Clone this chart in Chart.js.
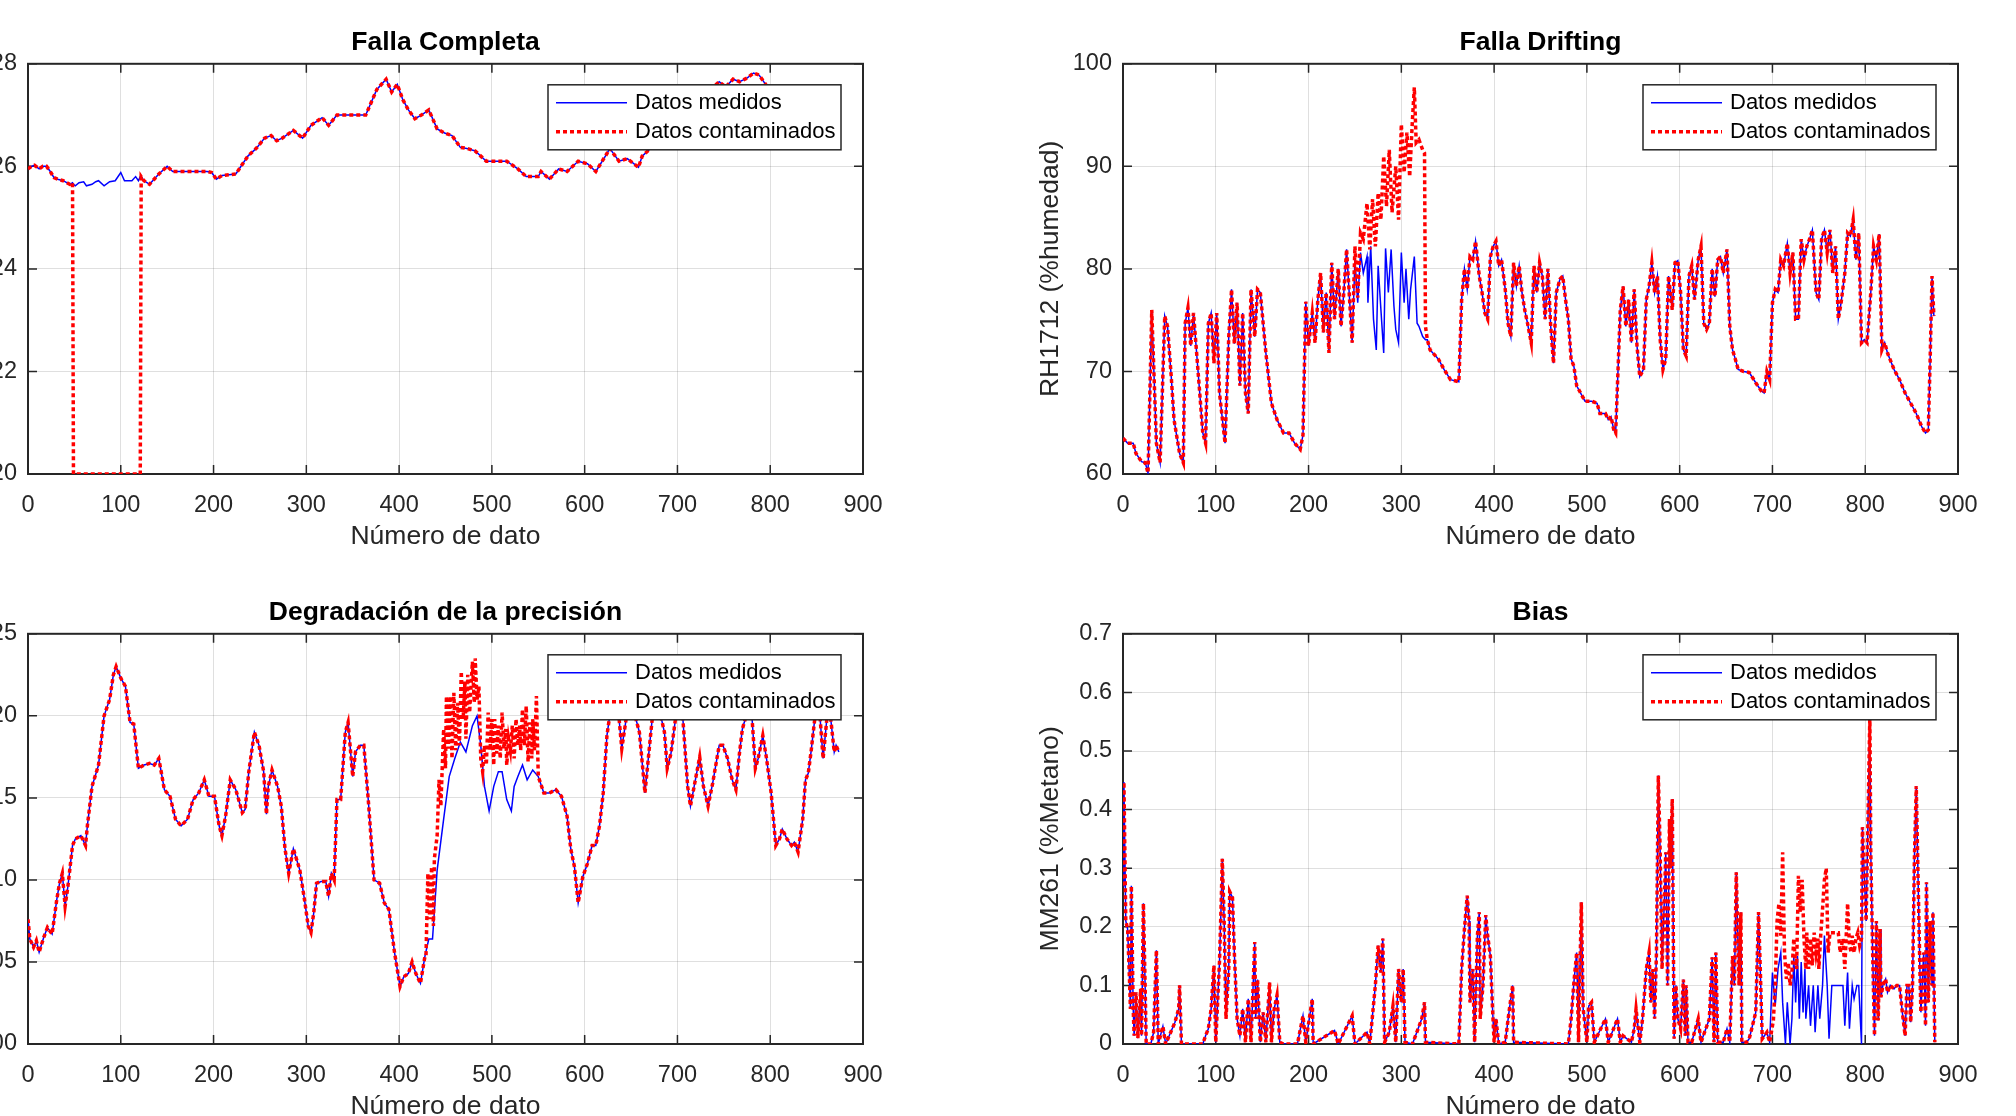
<!DOCTYPE html>
<html>
<head>
<meta charset="utf-8">
<script src="https://cdn.jsdelivr.net/npm/chart.js@4"></script>
<style>
  html, body { margin: 0; padding: 0; background: #fff; }
  body { width: 2016px; height: 1116px; overflow: hidden; position: relative; }
  canvas { position: absolute; }
</style>
</head>
<body>
<canvas id="completa" width="975" height="560" style="left:-72px;top:0px"></canvas>
<canvas id="deriva" width="975" height="560" style="left:1023px;top:0px"></canvas>
<canvas id="degradacion" width="975" height="560" style="left:-72px;top:570px"></canvas>
<canvas id="bias" width="975" height="560" style="left:1023px;top:570px"></canvas>
<script>
// Falla Completa: common parts + fault window
const completaInicio = [[0,25.95],[4,26.0],[7,26.02],[12,25.95],[16,26.0],[20,26.0],[24,25.9],[28,25.78],[32,25.75],[38,25.72],[45,25.65],[48,25.68]];
const completaMedVentana = [[49,25.65],[51,25.62],[55,25.68],[60,25.7],[63,25.62],[69,25.65],[73,25.7],[76,25.72],[82,25.62],[88,25.7],[94,25.72],[100,25.88],[104,25.72],[112,25.72],[116,25.8],[119,25.72],[121,25.8]];
const completaConVentana = [[49,20],[121,20]];
const completaFinal = [[122,25.8],[125,25.72],[131,25.65],[141,25.85],[150,26.0],[156,25.9],[175,25.9],[193,25.9],[198,25.88],[203,25.75],[209,25.82],[224,25.85],[237,26.2],[246,26.35],[255,26.55],[262,26.6],[268,26.5],[274,26.55],[286,26.7],[296,26.55],[305,26.8],[317,26.95],[324,26.8],[333,27.0],[364,27.0],[376,27.5],[386,27.7],[392,27.45],[398,27.6],[404,27.3],[410,27.1],[417,26.93],[424,27.0],[432,27.1],[441,26.73],[449,26.65],[457,26.6],[466,26.37],[473,26.35],[482,26.3],[494,26.1],[516,26.1],[528,25.95],[537,25.8],[550,25.8],[553,25.9],[562,25.75],[572,25.95],[581,25.9],[593,26.1],[603,26.05],[612,25.9],[624,26.25],[627,26.35],[637,26.1],[646,26.15],[658,25.98],[662,26.2],[671,26.35],[690,26.7],[710,27.1],[730,27.4],[745,27.65],[752,27.55],[760,27.7],[767,27.65],[775,27.72],[782,27.82],[788,27.78],[795,27.6],[805,27.4],[820,27.2],[840,27.0],[860,27.1],[875,26.9]];

// Falla Drifting (RH1712)
const derivaInicio = [[0,63.5],[5,63.0],[11,63.0],[14,62.0],[20,61.2],[24,61.1],[27,60.1],[31,76.0],[36,63.0],[40,61.1],[45,75.4],[48,74.4],[52,69.5],[55,65.3],[61,62.0],[65,61.1],[67,74.7],[70,76.2],[73,72.5],[76,75.7],[81,69.9],[86,64.0],[89,63.0],[92,74.7],[95,75.7],[98,70.8],[101,75.7],[104,67.9],[110,63.0],[114,73.4],[117,78.0],[120,72.7],[123,76.7],[126,68.6],[129,75.7],[132,67.9],[135,65.9],[138,78.0],[142,73.4],[145,78.0],[148,77.7],[154,71.8],[160,66.9],[166,65.3],[173,64.0],[179,64.0],[185,63.0],[191,62.4],[194,63.8],[197,76.8],[200,72.5],[204,75.7],[207,72.8],[210,77.0],[213,79.6],[216,73.8],[219,77.7],[222,71.8],[225,80.6],[228,75.1],[232,80.0],[235,74.4],[238,77.7],[241,81.9]];
const derivaMedVentana = [[247,72.8],[250,80.9],[253,76.7],[256,81.6],[259,79.6],[263,81.2],[264,76.7],[267,82.2],[270,75.1],[273,72.1],[275,80.3],[278,76.0],[281,71.8],[283,82.0],[286,77.7],[289,81.9],[292,76.4],[294,74.1],[297,72.8],[300,81.6],[303,76.7],[305,80.0],[308,75.1],[310,78.0],[314,81.2],[317,74.7],[319,74.4],[323,73.4],[326,73.1]];
const derivaConVentana = [[247,72.8],[250,82.2],[253,77.2],[256,83.5],[259,82.9],[263,86.4],[266,81.9],[269,86.8],[272,82.2],[275,87.4],[278,84.8],[281,91.0],[284,86.1],[287,91.6],[290,85.5],[294,90.0],[297,84.8],[300,94.1],[303,89.4],[306,93.3],[309,89.0],[312,94.6],[314,97.7],[316,92.3],[319,92.6],[323,91.6],[325,91.3],[326,74.4]];
const derivaFinal = [[328,73.1],[331,72.1],[334,71.8],[340,71.2],[346,70.2],[353,69.2],[362,69.0],[365,77.0],[368,80.0],[371,78.0],[374,81.2],[377,80.9],[380,82.7],[384,79.3],[387,77.7],[390,75.7],[393,75.1],[396,81.2],[399,82.2],[402,82.7],[405,80.3],[408,80.9],[412,78.0],[415,74.7],[418,73.4],[421,80.6],[424,78.3],[427,80.3],[430,77.7],[433,76.0],[436,74.7],[440,72.8],[443,80.3],[446,77.7],[449,80.6],[452,79.3],[455,75.1],[458,80.0],[461,74.4],[464,70.8],[467,77.7],[471,79.0],[474,79.3],[477,77.0],[480,75.1],[483,71.2],[486,70.5],[489,68.6],[495,67.6],[498,67.1],[505,67.1],[511,66.9],[514,65.9],[520,65.9],[523,65.3],[526,65.6],[529,64.3],[531,64.0],[534,71.2],[536,76.0],[539,78.3],[542,74.4],[545,77.0],[548,72.8],[551,78.0],[554,72.5],[557,69.5],[561,70.2],[564,77.0],[567,78.3],[570,80.6],[573,77.7],[576,79.3],[579,73.1],[582,70.2],[585,71.2],[588,79.3],[592,76.0],[595,80.6],[598,80.8],[601,77.7],[604,72.1],[607,71.5],[610,79.3],[613,80.3],[616,77.0],[620,80.9],[623,82.2],[626,74.7],[629,74.1],[632,74.7],[635,80.0],[638,77.3],[641,80.9],[644,81.2],[647,79.6],[651,81.9],[654,74.4],[657,72.1],[660,71.2],[663,70.2],[669,70.0],[675,69.9],[682,68.9],[688,68.1],[691,67.9],[694,70.0],[697,69.2],[700,76.7],[703,78.0],[706,77.7],[709,80.9],[712,80.3],[716,82.5],[719,79.6],[722,81.6],[725,75.1],[728,75.1],[731,82.9],[734,80.9],[737,82.2],[740,82.9],[743,83.8],[747,77.7],[750,77.0],[753,82.9],[756,83.8],[759,81.6],[762,83.8],[765,79.6],[768,82.2],[771,75.1],[774,76.7],[778,79.6],[781,83.5],[784,83.2],[787,84.8],[790,80.9],[793,83.5],[796,72.8],[799,73.1],[802,72.8],[806,77.7],[809,82.2],[812,80.9],[815,83.4],[818,72.1],[821,72.8],[824,71.8],[831,70.2],[837,69.2],[843,67.9],[849,66.9],[855,65.9],[861,64.6],[865,64.0],[868,64.3],[870,71.2],[872,79.3],[874,75.4]];

// Degradación de la precisión
const degraInicio = [[0,1007.6],[2,1006.4],[6,1005.9],[9,1006.3],[12,1005.6],[17,1006.5],[21,1007.1],[26,1006.7],[31,1008.8],[34,1009.8],[37,1010.4],[40,1008.4],[43,1009.6],[48,1012.1],[51,1012.5],[57,1012.7],[62,1012.1],[64,1013.3],[69,1015.7],[76,1017.0],[82,1020.0],[88,1021.0],[92,1022.5],[95,1023.0],[100,1022.3],[105,1021.8],[110,1019.6],[114,1019.5],[119,1016.8],[125,1017.0],[131,1017.1],[136,1017.0],[141,1017.4],[147,1015.5],[153,1015.1],[159,1013.7],[165,1013.3],[172,1013.7],[178,1014.9],[184,1015.3],[190,1016.1],[195,1015.1],[201,1015.1],[206,1013.3],[209,1012.7],[213,1013.9],[218,1016.1],[224,1015.5],[231,1014.1],[234,1014.3],[238,1016.6],[244,1019.0],[249,1018.2],[254,1016.6],[257,1014.0],[259,1015.7],[263,1016.7],[269,1015.7],[273,1014.5],[277,1011.9],[281,1010.4],[286,1011.9],[293,1010.6],[298,1008.8],[302,1007.2],[305,1006.8],[308,1008.0],[311,1009.8],[316,1009.9],[321,1009.9],[324,1009.0],[327,1010.4],[330,1010.0],[333,1014.9],[337,1014.9],[342,1019.0],[345,1019.6],[350,1016.3],[353,1017.8],[358,1018.2],[362,1018.2],[367,1014.7],[373,1010.0],[379,1009.8],[384,1008.6],[389,1008.2],[395,1005.6],[401,1003.5],[405,1004.1],[410,1004.3],[414,1005.0],[418,1004.3],[423,1003.7],[428,1005.4]];
const degraMedVentana = [[432,1006.4],[436,1006.4],[441,1010.6],[448,1013.7],[454,1016.3],[460,1017.4],[466,1018.4],[472,1017.8],[479,1019.4],[484,1020.0],[488,1018.2],[492,1015.7],[497,1014.2],[502,1015.7],[507,1016.6],[511,1016.6],[516,1014.9],[521,1014.2],[524,1015.7],[528,1016.3],[533,1017.0],[538,1016.1],[544,1016.7]];
const degraConVentana = [[429,1005.4],[431,1010.4],[433,1007.6],[435,1010.8],[437,1007.2],[438,1011.3],[441,1012.7],[443,1016.1],[445,1014.5],[448,1019.2],[450,1016.8],[451,1021.2],[453,1018.0],[455,1021.2],[457,1017.4],[459,1021.4],[461,1017.9],[463,1020.8],[465,1018.2],[467,1022.7],[469,1019.8],[471,1022.1],[472,1018.6],[474,1022.5],[476,1020.2],[479,1023.3],[481,1020.8],[482,1023.5],[484,1021.0],[486,1021.8],[488,1017.4],[490,1016.6],[492,1018.2],[494,1017.0],[496,1020.2],[498,1017.9],[500,1019.8],[502,1017.0],[503,1019.8],[505,1017.7],[507,1019.4],[509,1017.4],[511,1020.2],[513,1018.0],[515,1019.2],[516,1017.0],[518,1018.6],[520,1017.9],[522,1019.4],[524,1017.4],[526,1019.8],[528,1018.2],[530,1019.4],[531,1017.9],[533,1020.4],[535,1018.2],[537,1020.6],[539,1017.2],[541,1019.6],[543,1017.4],[544,1019.8],[546,1017.9],[548,1021.2]];
const degraFinal = [[550,1016.3],[556,1015.3],[562,1015.3],[569,1015.5],[575,1015.1],[581,1013.9],[585,1011.9],[589,1010.8],[593,1008.6],[598,1010.2],[603,1011.0],[608,1012.1],[612,1012.1],[616,1013.3],[620,1015.3],[624,1018.8],[627,1020.0],[631,1021.5],[636,1020.5],[640,1018.0],[646,1020.3],[652,1020.5],[659,1019.0],[665,1015.3],[671,1018.8],[675,1021.0],[680,1020.5],[686,1019.0],[689,1016.8],[693,1017.7],[699,1020.3],[705,1020.5],[711,1015.7],[714,1014.5],[720,1016.3],[724,1017.5],[728,1015.7],[733,1014.5],[738,1015.9],[745,1018.2],[749,1018.2],[754,1017.4],[759,1016.1],[763,1015.5],[767,1017.8],[770,1019.2],[776,1020.4],[780,1020.2],[784,1016.8],[787,1017.4],[792,1018.8],[796,1017.4],[801,1015.3],[806,1012.1],[810,1012.5],[813,1013.1],[818,1012.5],[823,1012.1],[826,1012.3],[830,1011.7],[835,1013.7],[838,1016.1],[841,1016.5],[844,1017.8],[848,1019.8],[852,1021.2],[857,1017.4],[863,1021.0],[869,1017.8],[871,1018.2],[874,1017.8]];

// Bias (MM261)
const biasInicio = [[0,0.27],[1,0.447],[3,0.21],[5,0.196],[7,0.11],[8,0.06],[9,0.27],[11,0.06],[12,0.014],[14,0.088],[16,0.01],[19,0.094],[20,0.014],[22,0.24],[24,0.088],[25,0],[30,0],[33,0.02],[36,0.16],[38,0],[43,0.03],[46,0],[56,0.037],[60,0.06],[61,0.1],[63,0],[67,0],[86,0],[89,0.014],[92,0.026],[95,0.06],[98,0.134],[100,0.003],[102,0.071],[104,0.14],[106,0.25],[107,0.316],[109,0.213],[111,0.043],[114,0.128],[115,0.26],[118,0.25],[120,0.156],[123,0.043],[126,0.014],[129,0.06],[132,0.003],[135,0.077],[138,0.003],[142,0.174],[143,0.043],[145,0.11],[148,0.003],[151,0.054],[154,0.003],[158,0.105],[160,0.003],[163,0.06],[166,0.083],[169,0.003],[173,0],[188,0],[194,0.048],[197,0.003],[204,0.077],[205,0],[228,0.023],[232,0],[247,0.048],[250,0],[263,0.02],[266,0],[272,0.1],[275,0.168],[278,0.122],[280,0.18],[282,0.003],[287,0.02],[291,0.065],[294,0.003],[297,0.128],[300,0.071],[302,0.128],[304,0.003],[312,0],[322,0.043],[325,0.071],[326,0.003],[362,0],[365,0.128],[368,0.196],[371,0.253],[373,0.21],[374,0.071],[377,0.128],[379,0.003],[382,0.185],[384,0.225],[385,0.043],[388,0.1],[391,0.22],[393,0.185],[396,0.15],[398,0.071],[400,0.003],[402,0.043],[405,0],[412,0.003],[416,0.054],[420,0.1],[421,0.003],[480,0],[483,0.043],[486,0.105],[489,0.156],[491,0.003],[494,0.242],[496,0.06],[500,0.003],[502,0.065],[505,0.071],[508,0.003],[520,0.043],[523,0.003],[533,0.043],[536,0.003],[539,0.014],[548,0.003],[551,0.026],[553,0.06],[555,0.031],[557,0.003],[560,0.043],[564,0.128],[567,0.156],[569,0.071],[571,0.128],[573,0.043],[575,0.156],[577,0.458],[579,0.327],[581,0.128],[584,0.27],[585,0.327],[587,0.1],[589,0.384],[590,0.3],[592,0.418],[594,0.009],[596,0.1],[598,0.043],[601,0.026],[604,0.11],[606,0.014],[607,0.1],[609,0.003],[613,0.003],[620,0.043],[623,0.003],[632,0.043],[635,0.148],[637,0.003],[639,0.156],[641,0.003],[647,0.003],[651,0.026],[654,0.003],[657,0.15],[659,0.1],[661,0.293],[664,0.1],[666,0.225],[667,0.003],[672,0.003],[675,0.009],[682,0.054],[685,0.225],[687,0.122],[689,0.009],[694,0.02],[697,0.003]];
const biasMedVentana = [[700,0.122],[703,0.065],[706,0.128],[709,0.156],[711,0.071],[714,0],[716,0.071],[719,0],[721,0.043],[723,0.15],[725,0.071],[727,0.15],[729,0.043],[731,0.14],[733,0.054],[735,0.128],[736,0.043],[739,0.1],[741,0.031],[744,0.1],[746,0.02],[749,0.1],[751,0.043],[754,0.1],[756,0.185],[759,0.1],[761,0.009],[764,0.1],[768,0.1],[773,0.1],[776,0.1],[778,0.031],[781,0.122],[783,0.026],[786,0.1],[788,0.077],[791,0.1],[793,0.1],[796,0]];
const biasConVentana = [[701,0.04],[703,0.1],[705,0.21],[707,0.24],[709,0.185],[711,0.327],[713,0.156],[715,0.111],[717,0.139],[719,0.1],[721,0.122],[723,0.18],[724,0.156],[726,0.128],[728,0.287],[730,0.225],[732,0.28],[734,0.18],[736,0.128],[737,0.19],[739,0.128],[741,0.18],[743,0.134],[745,0.19],[747,0.156],[749,0.18],[750,0.128],[752,0.185],[754,0.23],[756,0.28],[758,0.3],[760,0.156],[762,0.19],[764,0.19],[766,0.19],[768,0.19],[771,0.19],[773,0.156],[776,0.18],[778,0.128],[781,0.24],[783,0.168],[785,0.156],[786,0.185],[788,0.156],[790,0.18],[792,0.19],[794,0.168],[796,0.18]];
const biasFinal = [[797,0.37],[798,0.327],[801,0.21],[803,0.384],[805,0.56],[806,0.327],[808,0.156],[810,0.014],[812,0.21],[814,0.04],[816,0.196],[817,0.08],[819,0.1],[822,0.111],[824,0.088],[827,0.1],[831,0.094],[834,0.1],[837,0.1],[840,0.054],[843,0.014],[845,0.1],[847,0.1],[849,0.037],[851,0.1],[853,0.316],[855,0.44],[857,0.28],[859,0.122],[860,0.054],[863,0.156],[865,0.031],[866,0.276],[868,0.071],[870,0.21],[872,0.1],[873,0.225],[875,0.003]];

const xTicks = [0, 900, 100];
const nombres = ['Datos medidos', 'Datos contaminados'];

const FONT = '"Liberation Sans", Arial, Helvetica, sans-serif';
const INK = '#262626';

// MATLAB-like box with inward ticks on all four sides
const axisBox = {
  id: 'axisBox',
  beforeDatasetsDraw(chart) {
    const {ctx, chartArea: a, scales: {x, y}} = chart;
    ctx.save();
    ctx.strokeStyle = INK;
    ctx.lineWidth = 1.5;
    ctx.beginPath();
    x.ticks.forEach(t => {
      const px = x.getPixelForValue(t.value);
      ctx.moveTo(px, a.bottom); ctx.lineTo(px, a.bottom - 9);
      ctx.moveTo(px, a.top); ctx.lineTo(px, a.top + 9);
    });
    y.ticks.forEach(t => {
      const py = y.getPixelForValue(t.value);
      ctx.moveTo(a.left, py); ctx.lineTo(a.left + 9, py);
      ctx.moveTo(a.right, py); ctx.lineTo(a.right - 9, py);
    });
    ctx.stroke();
    ctx.lineWidth = 2;
    ctx.strokeRect(a.left, a.top, a.right - a.left, a.bottom - a.top);
    ctx.restore();
  }
};

// opaque legend box in the upper right, drawn over the lines
const boxLegend = {
  id: 'boxLegend',
  afterDatasetsDraw(chart) {
    const {ctx, chartArea: a} = chart;
    const w = 293, h = 65;
    const bx = a.right - 22 - w, by = a.top + 21;
    ctx.save();
    ctx.fillStyle = '#fff';
    ctx.fillRect(bx, by, w, h);
    ctx.strokeStyle = INK;
    ctx.lineWidth = 1.5;
    ctx.strokeRect(bx, by, w, h);
    chart.data.datasets.forEach((ds, i) => {
      const cy = by + 18 + i * 29;
      ctx.strokeStyle = ds.borderColor;
      ctx.lineWidth = ds.borderWidth;
      ctx.setLineDash(ds.borderDash || []);
      ctx.beginPath();
      ctx.moveTo(bx + 8, cy);
      ctx.lineTo(bx + 79, cy);
      ctx.stroke();
      ctx.setLineDash([]);
      ctx.fillStyle = '#000';
      ctx.font = '22px ' + FONT;
      ctx.textBaseline = 'middle';
      ctx.textAlign = 'left';
      ctx.fillText(ds.label, bx + 87, cy);
    });
    ctx.restore();
  }
};

function makeChart(id, titulo, medidos, contaminados, yMin, yMax, yStep, yTitulo) {
  return new Chart(document.getElementById(id), {
    type: 'line',
    data: {
      datasets: [
        { label: nombres[0], data: medidos, borderColor: '#0000ff', borderWidth: 1.5, order: 1 },
        { label: nombres[1], data: contaminados, borderColor: '#ff0000', borderWidth: 3.5, borderDash: [4, 3], order: 0 }
      ]
    },
    options: {
      responsive: false,
      animation: false,
      devicePixelRatio: 1,
      layout: { padding: { left: 0, top: 27, right: 40, bottom: 7 } },
      elements: { point: { radius: 0 }, line: { tension: 0, borderCapStyle: 'butt', borderJoinStyle: 'miter' } },
      plugins: {
        legend: { display: false },
        tooltip: { enabled: false },
        title: {
          display: true, text: titulo, fullSize: false, color: '#000',
          font: { family: FONT, size: 26.5, weight: 'bold', lineHeight: 1.2 },
          padding: { top: 0, bottom: 5 }
        }
      },
      scales: {
        x: {
          type: 'linear', min: xTicks[0], max: xTicks[1],
          ticks: { stepSize: xTicks[2], color: INK, padding: 17, font: { family: FONT, size: 23.5 }, maxRotation: 0 },
          grid: { color: 'rgba(38,38,38,0.15)', lineWidth: 1, drawTicks: false },
          border: { display: false },
          title: { display: true, text: 'Número de dato', color: INK, font: { family: FONT, size: 26.5, lineHeight: 1.2 }, padding: 0 },
          afterFit(s) { s.height = 79; }
        },
        y: {
          min: yMin, max: yMax,
          ticks: { stepSize: yStep, color: INK, padding: 11, font: { family: FONT, size: 23.5 } },
          grid: { color: 'rgba(38,38,38,0.15)', lineWidth: 1, drawTicks: false },
          border: { display: false },
          title: { display: !!yTitulo, text: yTitulo || '', color: INK, font: { family: FONT, size: 26.5, lineHeight: 1.2 }, padding: { top: 12, bottom: 0 } },
          afterFit(s) { s.width = 100; }
        }
      }
    },
    plugins: [axisBox, boxLegend]
  });
}

makeChart('completa', 'Falla Completa',
  [...completaInicio, ...completaMedVentana, ...completaFinal],
  [...completaInicio, ...completaConVentana, ...completaFinal],
  20, 28, 2, '');
makeChart('deriva', 'Falla Drifting',
  [...derivaInicio, ...derivaMedVentana, ...derivaFinal],
  [...derivaInicio, ...derivaConVentana, ...derivaFinal],
  60, 100, 10, 'RH1712 (%humedad)');
makeChart('degradacion', 'Degradación de la precisión',
  [...degraInicio, ...degraMedVentana, ...degraFinal],
  [...degraInicio, ...degraConVentana, ...degraFinal],
  1000, 1025, 5, '');
makeChart('bias', 'Bias',
  [...biasInicio, ...biasMedVentana, ...biasFinal],
  [...biasInicio, ...biasConVentana, ...biasFinal],
  0, 0.7, 0.1, 'MM261 (%Metano)');
</script>
</body>
</html>
